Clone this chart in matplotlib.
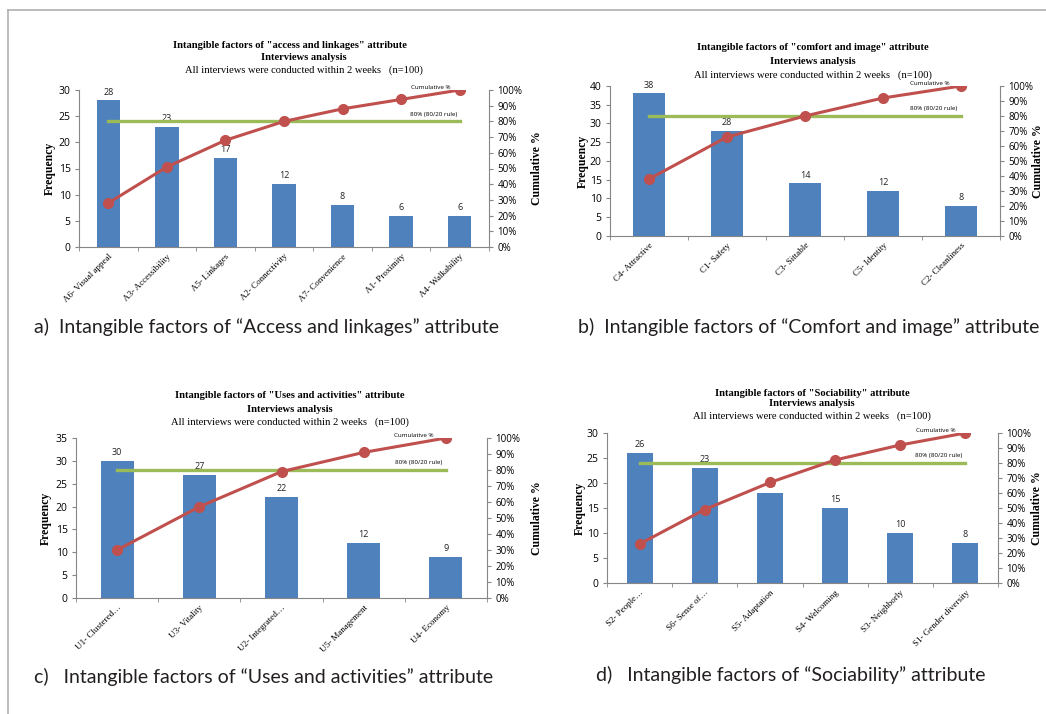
import matplotlib
matplotlib.use("Agg")
import matplotlib.pyplot as plt
from matplotlib.lines import Line2D
import numpy as np

# ---- data ----
a_labels = ["A6- Visual appeal", "A3- Accessibility", "A5- Linkages", "A2- Connectivity",
            "A7- Convenience", "A1- Proximity", "A4- Walkability"]
a_freq = [28, 23, 17, 12, 8, 6, 6]

b_labels = ["C4- Attractive", "C1- Safety", "C3- Sittable", "C5- Identity", "C2- Cleanliness"]
b_freq = [38, 28, 14, 12, 8]

c_labels = ["U1- Clustered\u2026", "U3- Vitality", "U2- Integrated\u2026", "U5- Management", "U4- Economy"]
c_freq = [30, 27, 22, 12, 9]

d_labels = ["S2- People\u2026", "S6- Sense of\u2026", "S5- Adaptation", "S4- Welcoming",
            "S3- Neighborly", "S1- Gender diversity"]
d_freq = [26, 23, 18, 15, 10, 8]

titles = ['Intangible factors of "access and linkages" attribute',
          'Intangible factors of "comfort and image" attribute',
          'Intangible factors of "Uses and activities" attribute',
          'Intangible factors of "Sociability" attribute']
subtitle = "All interviews were conducted within 2 weeks   (n=100)"
captions = ["a)  Intangible factors of \u201cAccess and linkages\u201d attribute",
            "b)  Intangible factors of \u201cComfort and image\u201d attribute",
            "c)   Intangible factors of \u201cUses and activities\u201d attribute",
            "d)   Intangible factors of \u201cSociability\u201d attribute"]

W, H = 1046, 714
BAR = "#4F81BD"
RED = "#C0504D"
GREEN = "#9BBB59"
GRAY = "#868686"
SERIF = "Liberation Serif"
SANS = "Open Sans"

fig = plt.figure(figsize=(W / 100, H / 100), dpi=100)


def rect(l, t, r, b):
    return [l / W, 1 - b / H, (r - l) / W, (b - t) / H]


def pareto(box, labels, freq, ymax, title, title_y, title_x, freq_x, cum_x):
    ax = fig.add_axes(rect(*box))
    x = np.arange(len(freq))
    ax.bar(x, freq, width=0.4, color=BAR, zorder=2)
    for xi, v in zip(x, freq):
        ax.text(xi, v + ymax * 0.025, str(v), ha="center", va="bottom",
                fontsize=6.5, family=SANS, color="#222222")
    ax.set_xlim(-0.5, len(freq) - 0.5)
    ax.set_ylim(0, ymax)
    ax.set_yticks(np.arange(0, ymax + 1, 5))
    ax.set_xticks(x)
    ax.set_xticklabels(labels, rotation=45, ha="right", rotation_mode="anchor",
                       fontsize=6.5, family=SERIF)
    ax.set_xticks(np.arange(-0.5, len(freq)), minor=True)
    ax.tick_params(axis="x", which="major", length=0, pad=4)
    ax.tick_params(axis="x", which="minor", length=3, color=GRAY)
    ax.tick_params(axis="y", length=3, color=GRAY, labelsize=7.5, pad=3)
    for lab in ax.get_yticklabels():
        lab.set_family(SANS)
    ax.spines["top"].set_visible(False)
    ax.spines["right"].set_visible(False)
    for s in ("left", "bottom"):
        ax.spines[s].set_color(GRAY)

    ax2 = ax.twinx()
    cum = np.cumsum(freq) / np.sum(freq)
    ax2.plot(x, cum, color=RED, lw=2.2, marker="o", ms=7, zorder=3)
    ax2.plot([x[0], x[-1]], [0.8, 0.8], color=GREEN, lw=2.4, zorder=2)
    ax2.set_ylim(0, 1)
    ax2.set_yticks(np.arange(0, 1.01, 0.1))
    ax2.set_yticklabels([f"{int(round(v * 100))}%" for v in np.arange(0, 1.01, 0.1)],
                        family=SANS, fontsize=7)
    ax2.tick_params(axis="y", length=3, color=GRAY, pad=3)
    ax2.spines["top"].set_visible(False)
    ax2.spines["left"].set_visible(False)
    ax2.spines["bottom"].set_visible(False)
    ax2.spines["right"].set_color(GRAY)
    ax2.text(x[-1] - 0.15, 1.0, "Cumulative %", ha="right", va="bottom",
             fontsize=4.5, family=SANS)
    ax2.text(x[-1] - 0.05, 0.83, "80% (80/20 rule)", ha="right", va="bottom",
             fontsize=4.5, family=SANS)

    fig.text(freq_x / W, 1 - (box[1] + box[3]) / 2 / H, "Frequency", rotation=90,
             ha="center", va="center", family=SERIF, weight="bold", fontsize=8.5)
    fig.text(cum_x / W, 1 - (box[1] + box[3]) / 2 / H, "Cumulative %", rotation=90,
             ha="center", va="center", family=SERIF, weight="bold", fontsize=8.5)

    fig.text(title_x[0] / W, 1 - title_y[0] / H, title, ha="center", va="center",
             family=SERIF, weight="bold", fontsize=7.6)
    fig.text(title_x[1] / W, 1 - title_y[1] / H, "Interviews analysis", ha="center",
             va="center", family=SERIF, weight="bold", fontsize=7.6)
    fig.text(title_x[1] / W, 1 - title_y[2] / H, subtitle, ha="center", va="center",
             family=SERIF, fontsize=7.6)


pareto((79, 90, 489, 247), a_labels, a_freq, 30, titles[0], (45, 58, 70), (290, 304), 50, 537)
pareto((610, 86, 1000, 236), b_labels, b_freq, 40, titles[1], (47, 61, 75), (813, 813), 583, 1038)
pareto((76, 438, 487, 598), c_labels, c_freq, 35, titles[2], (396, 409, 422), (290, 290), 46, 537)
pareto((607, 433, 998, 583), d_labels, d_freq, 30, titles[3], (393, 404, 416), (812, 812), 580, 1037)

cap_pos = [(34, 327), (578, 327), (34, 677), (596, 675)]
for (cx, cy), txt in zip(cap_pos, captions):
    fig.text(cx / W, 1 - cy / H, txt, ha="left", va="center", family="Lato",
             fontsize=14, color="#231f20")

# page frame
fig.add_artist(Line2D([8 / W, 1], [1 - 10 / H, 1 - 10 / H], color="#b0b0b0", lw=1.2,
                      transform=fig.transFigure))
fig.add_artist(Line2D([8 / W, 8 / W], [0, 1 - 10 / H], color="#b0b0b0", lw=1.2,
                      transform=fig.transFigure))

fig.savefig("out.png", dpi=100)
